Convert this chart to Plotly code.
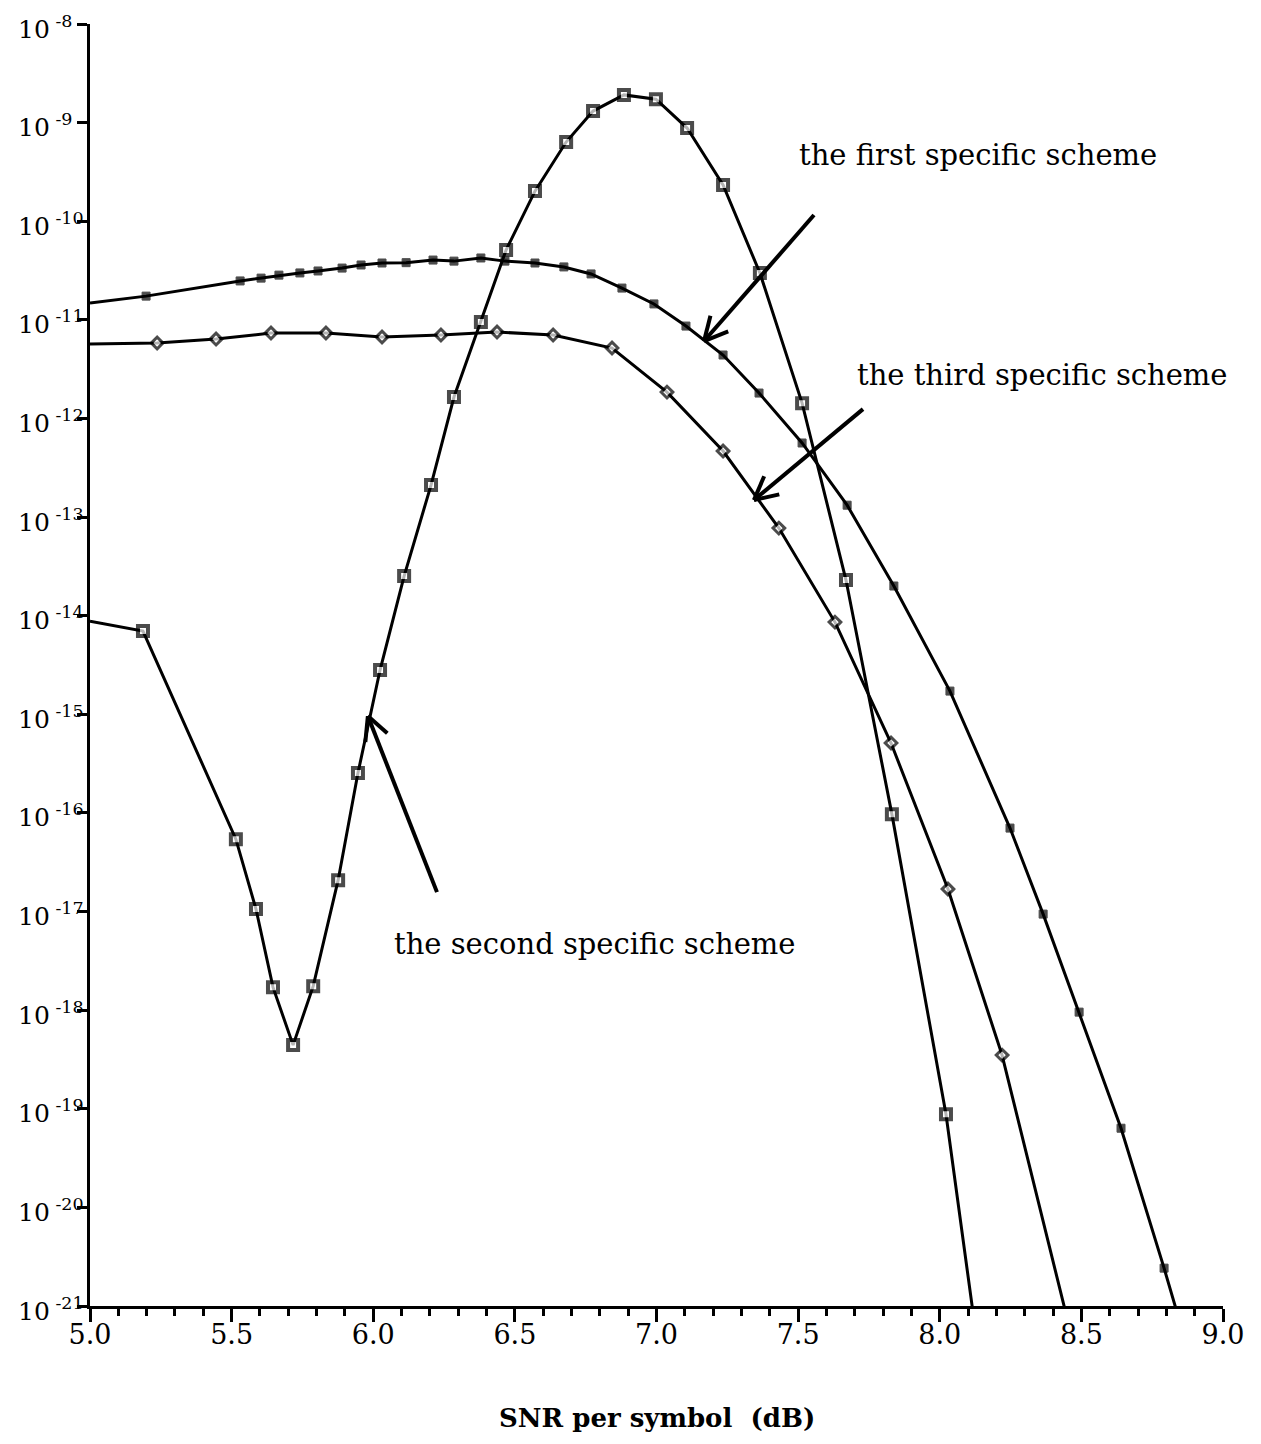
import math
import plotly.graph_objects as go

# SNR per symbol (dB) and error probability for each scheme
snr_first = [5.0, 5.198, 5.530, 5.604, 5.667, 5.741, 5.805, 5.890, 5.957, 6.031,
             6.116, 6.211, 6.285, 6.380, 6.465, 6.571, 6.673, 6.769, 6.878, 6.991,
             7.104, 7.235, 7.362, 7.514, 7.673, 7.838, 8.036, 8.248, 8.365, 8.492,
             8.640, 8.792, 8.882]
pe_first = [1.48e-11, 1.74e-11, 2.48e-11, 2.65e-11, 2.84e-11, 2.99e-11, 3.13e-11,
            3.35e-11, 3.60e-11, 3.77e-11, 3.80e-11, 4.04e-11, 3.94e-11, 4.24e-11,
            3.94e-11, 3.77e-11, 3.44e-11, 2.92e-11, 2.10e-11, 1.45e-11, 8.65e-12,
            4.40e-12, 1.81e-12, 5.64e-13, 1.32e-13, 2.00e-14, 1.72e-15, 7.02e-17,
            9.42e-18, 9.55e-19, 6.35e-20, 2.42e-21, 3.16e-22]

snr_second = [5.0, 5.187, 5.515, 5.586, 5.646, 5.717, 5.788, 5.876, 5.946, 6.024,
              6.109, 6.204, 6.285, 6.380, 6.469, 6.571, 6.681, 6.776, 6.885, 6.998,
              7.108, 7.235, 7.365, 7.514, 7.669, 7.831, 8.022, 8.138]
pe_second = [8.81e-15, 6.98e-15, 5.42e-17, 1.06e-17, 1.71e-18, 4.42e-19, 1.75e-18,
             2.08e-17, 2.54e-16, 2.81e-15, 2.52e-14, 2.11e-13, 1.65e-12, 9.51e-12,
             5.11e-11, 2.02e-10, 6.35e-10, 1.31e-09, 1.91e-09, 1.73e-09, 8.81e-10,
             2.33e-10, 2.99e-11, 1.43e-12, 2.30e-14, 9.72e-17, 8.81e-20, 3.16e-22]

snr_third = [5.0, 5.237, 5.445, 5.639, 5.833, 6.031, 6.239, 6.437, 6.635, 6.843,
             7.037, 7.235, 7.432, 7.630, 7.828, 8.029, 8.220, 8.482]
pe_third = [5.69e-12, 5.82e-12, 6.38e-12, 7.35e-12, 7.35e-12, 6.70e-12, 7.02e-12,
            7.52e-12, 7.02e-12, 5.18e-12, 1.85e-12, 4.67e-13, 7.73e-14, 8.61e-15,
            5.11e-16, 1.69e-17, 3.50e-19, 3.16e-22]

x_ticks = [5.0, 5.5, 6.0, 6.5, 7.0, 7.5, 8.0, 8.5, 9.0]
y_exponents = [-8, -9, -10, -11, -12, -13, -14, -15, -16, -17, -18, -19, -20, -21]

SERIF = "DejaVu Serif"
W, H = 1261, 1444
L, R, T, B = 90, 38, 24, 138
plot_w = W - L - R
plot_h = H - T - B
X_RANGE = (5.0, 9.0)
Y_RANGE = (-21, -8)
px_per_x = plot_w / (X_RANGE[1] - X_RANGE[0])
px_per_dec = plot_h / (Y_RANGE[1] - Y_RANGE[0])


def marker_sizes(n, size):
    # the first and last samples only anchor the curve on the axes
    return [0] + [size] * (n - 2) + [0]


fig = go.Figure()

fig.add_trace(go.Scatter(
    x=snr_first, y=pe_first, mode="lines+markers", name="first",
    line=dict(color="black", width=3),
    marker=dict(symbol="square", size=marker_sizes(len(snr_first), 8),
                color="black", line=dict(color="black", width=1)),
))
fig.add_trace(go.Scatter(
    x=snr_third, y=pe_third, mode="lines+markers", name="third",
    line=dict(color="black", width=3),
    marker=dict(symbol="diamond", size=marker_sizes(len(snr_third), 9),
                color="white", line=dict(color="black", width=3)),
))
fig.add_trace(go.Scatter(
    x=snr_second, y=pe_second, mode="lines+markers", name="second",
    line=dict(color="black", width=3),
    marker=dict(symbol="square", size=marker_sizes(len(snr_second), 10),
                color="white", line=dict(color="black", width=4)),
))

annotations = []

# decade labels on the left, left-aligned
for e in y_exponents:
    annotations.append(dict(
        x=(16 - L) / plot_w, xref="paper", xanchor="left",
        y=e, yref="y", yanchor="middle", yshift=-3,
        text=f"10<sup> {e}</sup>", showarrow=False,
        font=dict(family=SERIF, size=25, color="black"),
    ))

# curve labels
labels = [
    ("the first specific scheme", 7.496, -9.33),
    ("the third specific scheme", 7.701, -11.56),
    ("the second specific scheme", 6.066, -17.33),
]
for txt, lx, ly in labels:
    annotations.append(dict(
        x=lx, y=ly, xref="x", yref="y", xanchor="left", yanchor="middle",
        text=txt, showarrow=False,
        font=dict(family=SERIF, size=29, color="black"),
    ))

# axis title
annotations.append(dict(
    x=0.5, xref="paper", y=(1306 - 1418) / plot_h, yref="paper",
    xanchor="center", yanchor="middle", showarrow=False,
    text="<b>SNR per symbol\u00a0 (dB)</b>",
    font=dict(family=SERIF, size=26, color="black"),
))

# pointer arrows: (tip x, tip log y, tail x, tail log y), open V heads
arrows = [
    (7.168, -11.215, 7.556, -9.937),
    (7.344, -12.828, 7.729, -11.905),
    (5.981, -15.018, 6.225, -16.803),
]
HEAD_LEN = 26
HEAD_ANG = math.radians(27)
shapes = []
arrow_line = dict(color="black", width=4)


def seg(xa, la, xb, lb):
    # shapes on a log axis take plain data values
    return dict(type="line", xref="x", yref="y",
                x0=xa, y0=10 ** la, x1=xb, y1=10 ** lb, line=arrow_line)


for tx, ty, sx, sy in arrows:
    shapes.append(seg(sx, sy, tx, ty))
    # direction from tip back toward tail, in screen pixels (y up)
    dxp = (sx - tx) * px_per_x
    dyp = (sy - ty) * px_per_dec
    base = math.atan2(dyp, dxp)
    for sgn in (-1, 1):
        a = base + sgn * HEAD_ANG
        hx = tx + HEAD_LEN * math.cos(a) / px_per_x
        hy = ty + HEAD_LEN * math.sin(a) / px_per_dec
        shapes.append(seg(tx, ty, hx, hy))

fig.update_layout(
    width=W, height=H,
    margin=dict(l=L, r=R, t=T, b=B),
    paper_bgcolor="white", plot_bgcolor="white",
    showlegend=False,
    annotations=annotations,
    shapes=shapes,
    xaxis=dict(
        range=list(X_RANGE), tickvals=x_ticks, tickformat=".1f",
        showgrid=False, zeroline=False,
        showline=True, linecolor="black", linewidth=3,
        ticks="outside", ticklen=13, tickwidth=3, tickcolor="black",
        ticklabelstandoff=-10,
        minor=dict(dtick=0.1, ticks="outside", ticklen=7, tickwidth=2.5,
                   tickcolor="black", showgrid=False),
        tickfont=dict(family=SERIF, size=27, color="black"),
    ),
    yaxis=dict(
        type="log", range=list(Y_RANGE), dtick=1,
        showgrid=False, zeroline=False,
        showline=True, linecolor="black", linewidth=3,
        ticks="outside", ticklen=10, tickwidth=3, tickcolor="black",
        showticklabels=False,
    ),
)

fig.write_html("out.html")
